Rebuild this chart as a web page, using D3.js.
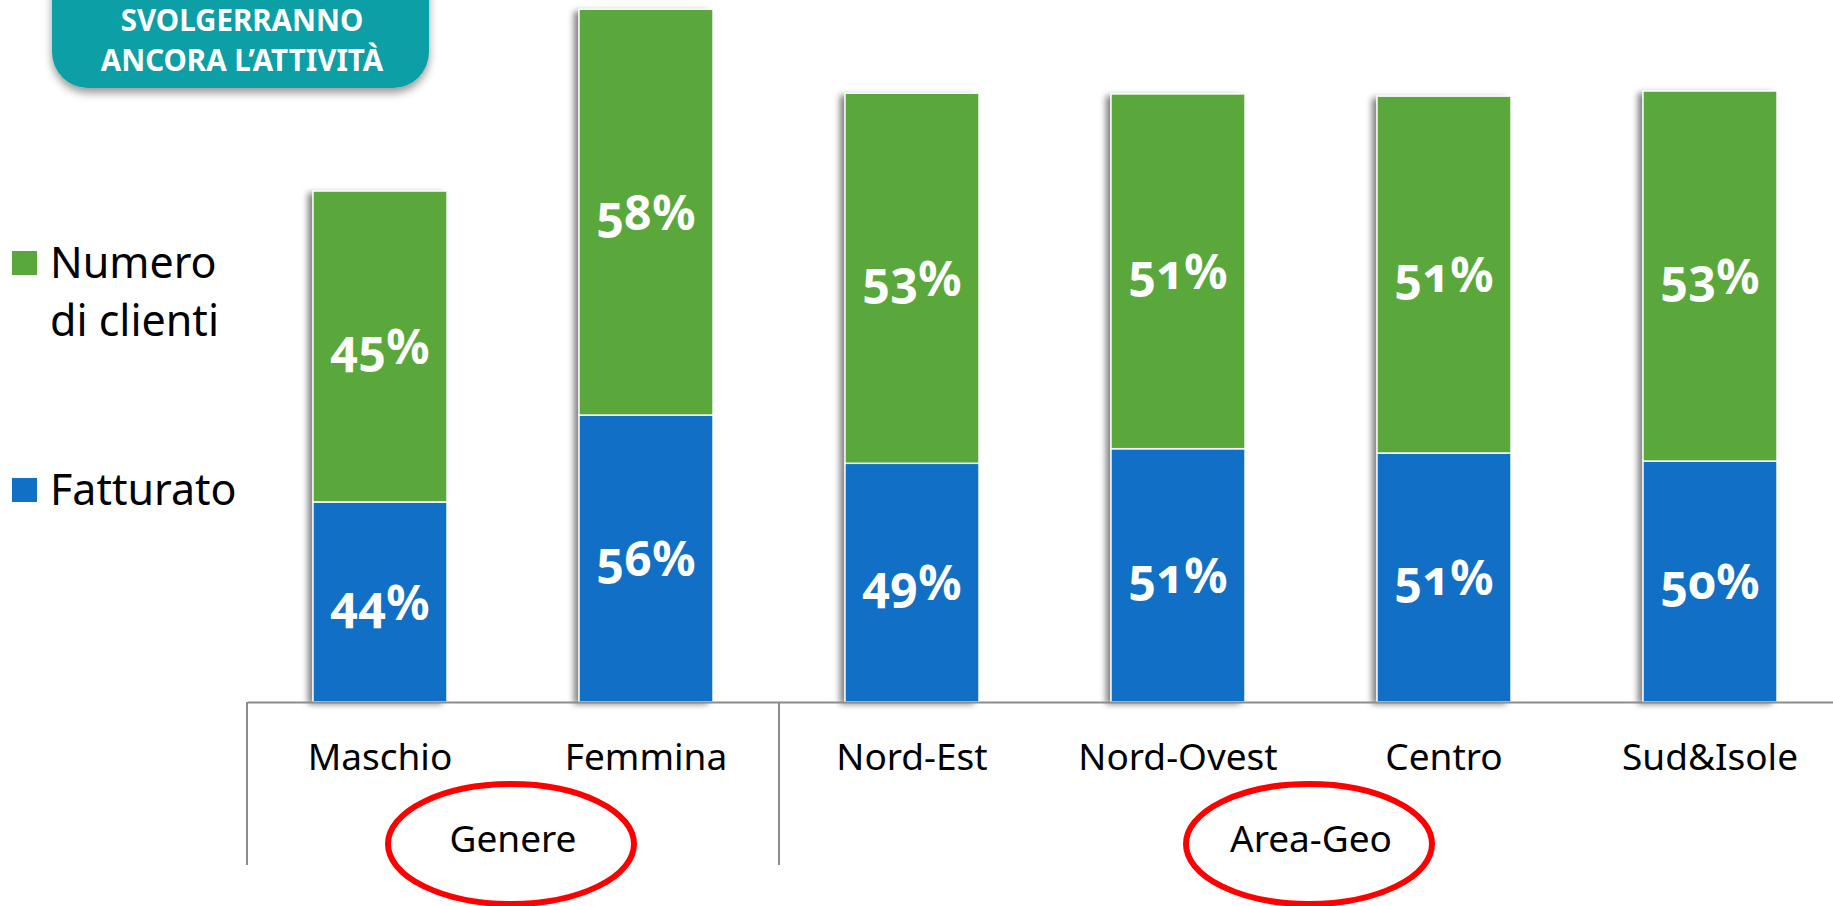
<!DOCTYPE html>
<html>
  <head>
    <meta charset="utf-8">
    <title>Svolgerranno ancora l'attività</title>
    <script src="https://d3js.org/d3.v7.min.js"></script>
    <style>
      body { margin: 0; background: #fff; }
      svg { display: block; font-family: "Noto Sans", "Open Sans", sans-serif; }
      .segLabel { font-size: 48px; font-weight: 700; fill: #fff; font-variant-numeric: oldstyle-nums; font-feature-settings: "onum"; }
      .catLabel, .groupLabel { font-size: 37px; fill: #000; }
      .legendText { font-size: 43px; fill: #000; }
      .badgeText { font-size: 29.5px; font-weight: 700; fill: #fff; }
    </style>
  </head>
  <body>
    <svg id="chart" width="1833" height="906"></svg>
    <script>
      // data
      var categories = ["Maschio", "Femmina", "Nord-Est", "Nord-Ovest", "Centro", "Sud&Isole"];
      // segment heights as drawn (chart units), bottom segment = Fatturato, top = Numero di clienti
      var fatturatoHeight = [27.4, 39.3, 32.7, 34.7, 34.1, 33.0];
      var clientiHeight = [42.6, 55.6, 50.7, 48.6, 48.9, 50.7];
      // printed labels
      var fatturatoLabel = ["44%", "56%", "49%", "51%", "51%", "50%"];
      var clientiLabel = ["45%", "58%", "53%", "51%", "51%", "53%"];
      var groups = [
        { name: "Genere", start: 0, size: 2 },
        { name: "Area-Geo", start: 2, size: 4 }
      ];
      var seriesNames = ["Numero di clienti", "Fatturato"];
      var badgeLines = ["SVOLGERRANNO", "ANCORA L\u2019ATTIVITÀ"];

      var green = "#5aa83c", blue = "#1170c5", teal = "#0a9fa6";
      var baseline = 702;

      var svg = d3.select("#chart");
      var defs = svg.append("defs");
      defs.append("filter")
          .attr("id", "barShadow")
          .attr("x", "-20%").attr("y", "-5%").attr("width", "140%").attr("height", "110%")
        .append("feDropShadow")
          .attr("dx", -5).attr("dy", 2).attr("stdDeviation", 3)
          .attr("flood-color", "#000").attr("flood-opacity", 0.5);
      defs.append("filter")
          .attr("id", "badgeShadow")
          .attr("x", "-10%").attr("y", "-10%").attr("width", "120%").attr("height", "130%")
        .append("feDropShadow")
          .attr("dx", 0).attr("dy", 5).attr("stdDeviation", 4)
          .attr("flood-color", "#000").attr("flood-opacity", 0.4);

      // scales
      var x = d3.scaleBand()
        .domain(categories)
        .range([247, 1843])
        .paddingInner(0.496)
        .paddingOuter(0.248);
      var y = d3.scaleLinear()
        .domain([0, 100])
        .range([baseline, baseline - 730]);

      // stacked bars
      var rows = categories.map(function(c, i) {
        return { cat: c, fatturato: fatturatoHeight[i], clienti: clientiHeight[i],
                 fLabel: fatturatoLabel[i], cLabel: clientiLabel[i] };
      });
      var stack = d3.stack().keys(["fatturato", "clienti"])(rows);
      var colours = { fatturato: blue, clienti: green };

      var barGroup = svg.append("g");
      barGroup.selectAll(".bar")
          .data(rows)
        .enter().append("rect")
          .attr("class", "bar")
          .attr("x", function(d) { return x(d.cat); })
          .attr("y", function(d) { return y(d.fatturato + d.clienti); })
          .attr("width", x.bandwidth())
          .attr("height", function(d) { return y(0) - y(d.fatturato + d.clienti); })
          .attr("fill", "#fff")
          .attr("filter", "url(#barShadow)");

      stack.forEach(function(layer) {
        barGroup.selectAll(".seg-" + layer.key)
            .data(layer)
          .enter().append("rect")
            .attr("class", "seg-" + layer.key)
            .attr("x", function(d) { return x(d.data.cat); })
            .attr("y", function(d) { return y(d[1]); })
            .attr("width", x.bandwidth())
            .attr("height", function(d) { return y(d[0]) - y(d[1]); })
            .attr("fill", colours[layer.key])
            .attr("stroke", "#fff")
            .attr("stroke-width", 1.5);
        barGroup.selectAll(".lab-" + layer.key)
            .data(layer)
          .enter().append("text")
            .attr("class", "segLabel")
            .attr("text-anchor", "middle")
            .attr("x", function(d) { return x(d.data.cat) + x.bandwidth() / 2; })
            .attr("y", function(d) { return (y(d[0]) + y(d[1])) / 2; })
            .attr("dy", "0.37em")
            .text(function(d) { return layer.key == "fatturato" ? d.data.fLabel : d.data.cLabel; });
      });

      // axis
      var axis = d3.axisBottom(x).tickSize(0).tickSizeOuter(0).tickPadding(42);
      var axisGroup = svg.append("g")
        .attr("transform", "translate(0," + baseline + ")")
        .call(axis);
      axisGroup.select(".domain")
        .attr("stroke", "#8c8c8c")
        .attr("stroke-width", 2);
      axisGroup.selectAll(".tick text")
        .attr("class", "catLabel")
        .attr("fill", "#000");
      axisGroup.attr("font-size", null).attr("font-family", null);

      // group separators, labels and circles
      var step = x.step();
      var left = x.range()[0];
      var bounds = d3.range(groups.length + 1).map(function(i) {
        return i < groups.length ? left + groups[i].start * step : left + categories.length * step;
      });
      svg.selectAll(".sep")
          .data(bounds)
        .enter().append("line")
          .attr("x1", function(d) { return d; })
          .attr("x2", function(d) { return d; })
          .attr("y1", baseline)
          .attr("y2", baseline + 163)
          .attr("stroke", "#8c8c8c")
          .attr("stroke-width", 2);
      groups.forEach(function(g) {
        var cx = left + (g.start + g.size / 2) * step;
        svg.append("text")
          .attr("class", "groupLabel")
          .attr("text-anchor", "middle")
          .attr("x", cx)
          .attr("y", 852)
          .text(g.name);
        svg.append("ellipse")
          .attr("cx", cx - 2)
          .attr("cy", 844)
          .attr("rx", 123)
          .attr("ry", 60)
          .attr("fill", "none")
          .attr("stroke", "#ff0000")
          .attr("stroke-width", 6);
      });

      // legend
      var legend = svg.append("g");
      var legendColours = [green, blue];
      var legendY = [251, 478];
      seriesNames.forEach(function(name, i) {
        legend.append("rect")
          .attr("x", 12).attr("y", legendY[i])
          .attr("width", 25).attr("height", 24)
          .attr("fill", legendColours[i]);
        var words = i == 0 ? ["Numero", "di clienti"] : [name];
        legend.selectAll(".lt" + i)
            .data(words)
          .enter().append("text")
            .attr("class", "legendText")
            .attr("x", 50)
            .attr("y", function(d, j) { return legendY[i] + 27 + j * 58; })
            .text(function(d) { return d; });
      });

      // badge
      var badge = svg.append("g");
      badge.append("rect")
        .attr("x", 52).attr("y", -40)
        .attr("width", 377).attr("height", 128)
        .attr("rx", 36)
        .attr("fill", teal)
        .attr("filter", "url(#badgeShadow)");
      badge.selectAll(".badgeText")
          .data(badgeLines)
        .enter().append("text")
          .attr("class", "badgeText")
          .attr("text-anchor", "middle")
          .attr("x", 242)
          .attr("y", function(d, i) { return 31 + i * 39.5; })
          .text(function(d) { return d; });
    </script>
  </body>
</html>
